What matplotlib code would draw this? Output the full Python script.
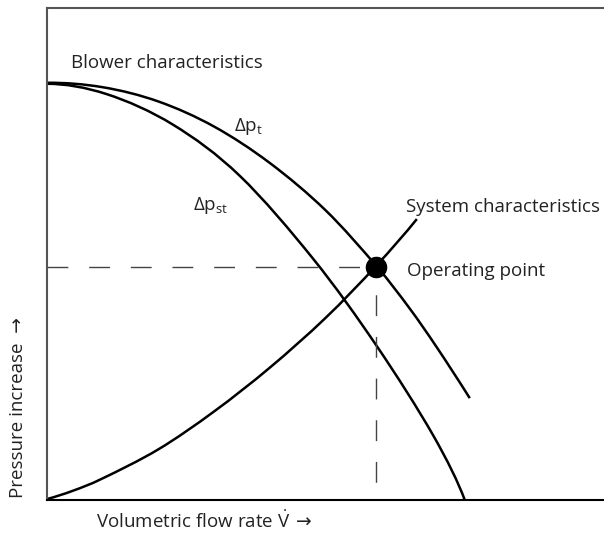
import matplotlib.pyplot as plt
from matplotlib.path import Path
from matplotlib.patches import PathPatch

plt.rcParams['font.family'] = ['Open Sans', 'DejaVu Sans']
plt.rcParams['mathtext.fontset'] = 'custom'
plt.rcParams['mathtext.rm'] = 'Open Sans'
plt.rcParams['mathtext.it'] = 'Open Sans:italic'

# curves (flow rate 0..100, pressure 0..100)
pt_x = [0, 10, 20, 30, 40, 50, 59.1, 65, 70, 75.9]
pt_y = [84.8, 83.9, 81.0, 75.9, 68.5, 58.9, 47.6, 39.1, 31.0, 20.7]

pst_x = [0, 10.7, 22.6, 34.6, 47.8, 59.2, 69.3, 75.0]
pst_y = [84.6, 82.5, 76.3, 65.9, 49.0, 31.3, 13.2, 0]

sys_x = [0, 4.7, 10, 20, 30, 40, 50, 59.1, 66.4]
sys_y = [0.2, 1.9, 4.4, 10.3, 18.0, 26.9, 37.0, 47.6, 57.1]

op_x, op_y = 59.1, 47.4


def smooth_path(xs, ys):
    # Catmull-Rom through the read points, drawn as cubic Bezier segments
    pts = list(zip(xs, ys))
    n = len(pts)
    first = tuple(3 * a - 3 * b + c for a, b, c in zip(pts[0], pts[1], pts[2]))
    last = tuple(3 * a - 3 * b + c for a, b, c in zip(pts[-1], pts[-2], pts[-3]))
    ext = [first] + pts + [last]
    verts = [pts[0]]
    codes = [Path.MOVETO]
    for i in range(1, n):
        p0, p1, p2, p3 = ext[i - 1], ext[i], ext[i + 1], ext[i + 2]
        c1 = (p1[0] + (p2[0] - p0[0]) / 6, p1[1] + (p2[1] - p0[1]) / 6)
        c2 = (p2[0] - (p3[0] - p1[0]) / 6, p2[1] - (p3[1] - p1[1]) / 6)
        verts += [c1, c2, p2]
        codes += [Path.CURVE4] * 3
    return Path(verts, codes)


fig = plt.figure(figsize=(6.04, 5.38), dpi=100)
ax = fig.add_axes([47/604, 38/538, 557/604, 492/538])

# dashed guides to the operating point
ax.plot([0, op_x], [op_y, op_y], color='#444444', lw=1.0, ls=(0, (15, 15)))
ax.plot([op_x, op_x], [op_y, 0], color='#444444', lw=1.0, ls=(10, (15, 15)))

for xs, ys in [(pt_x, pt_y), (pst_x, pst_y), (sys_x, sys_y)]:
    ax.add_patch(PathPatch(smooth_path(xs, ys), fill=False, ec='black',
                           lw=1.8, capstyle='butt'))
ax.plot([op_x], [op_y], 'o', color='black', ms=14.5)

ax.set_xlim(0, 100)
ax.set_ylim(0, 100)
ax.set_xticks([])
ax.set_yticks([])
ax.spines['right'].set_visible(False)
ax.spines['left'].set_color('#555555')
ax.spines['top'].set_color('#555555')
ax.spines['bottom'].set_color('black')
for s in ['left', 'top', 'bottom']:
    ax.spines[s].set_linewidth(1.5)

tc = '#222222'
fs = 13.5
ax.text(4.3, 87.8, 'Blower characteristics', fontsize=fs, color=tc, va='baseline')
ax.text(33.6, 74.9, r'$\mathrm{\Delta p}_{\mathrm{t}}$', fontsize=fs, color=tc, va='baseline')
ax.text(26.2, 58.9, r'$\mathrm{\Delta p}_{\mathrm{st}}$', fontsize=fs, color=tc, va='baseline')
ax.text(64.4, 58.5, 'System characteristics', fontsize=fs, color=tc, va='baseline')
ax.text(64.6, 45.6, 'Operating point', fontsize=fs, color=tc, va='baseline')

ax.text(-0.052, 0.005, 'Pressure increase  →', fontsize=fs, color=tc,
        rotation=90, ha='center', va='bottom', transform=ax.transAxes)
xl = fig.text(96/604, 10/538, r'Volumetric flow rate $\dot{\mathrm{V}}$', fontsize=fs,
              color=tc, va='baseline')
fig.canvas.draw()
bb = xl.get_window_extent()
fig.text(bb.x1/604 + 5/604, 10/538, '→', fontsize=fs, color=tc, va='baseline')

fig.savefig('out.png', dpi=100)
